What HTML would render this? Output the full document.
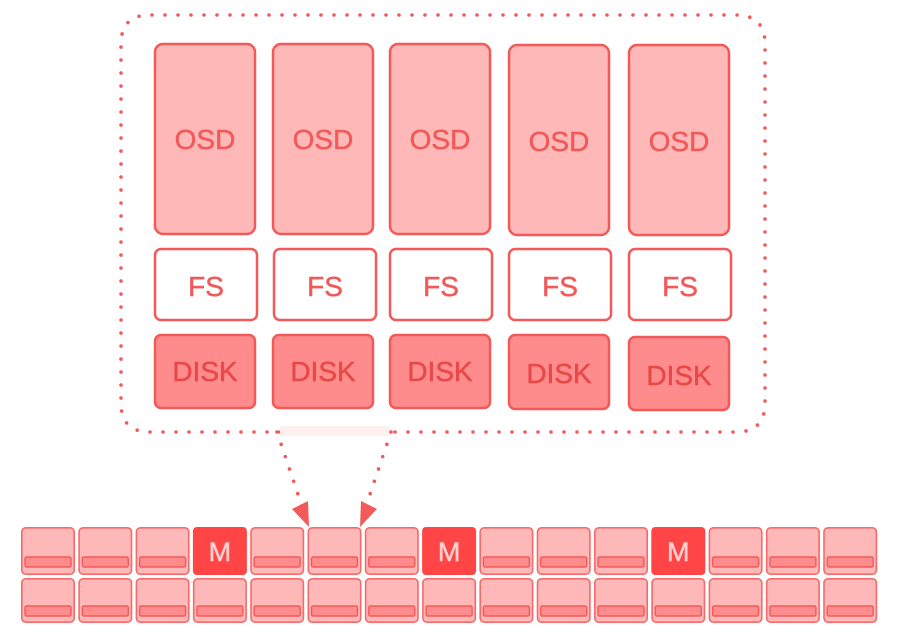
<!DOCTYPE html>
<html><head><meta charset="utf-8"><style>
html,body{margin:0;padding:0;background:#fff;width:902px;height:641px;overflow:hidden}
text{font-family:"Liberation Sans",sans-serif;fill:#f25a5a;text-anchor:middle;stroke:#f25a5a;stroke-width:0.5}
</style></head><body>
<svg width="902" height="641" viewBox="0 0 902 641" xmlns="http://www.w3.org/2000/svg">
<defs>
<g id="c"><rect x="0.8" y="0.8" width="52.4" height="46.4" rx="4" fill="#ffb8b8" stroke="#f56a6a" stroke-width="1.6"/><rect x="4" y="30" width="46" height="10" rx="1.5" fill="#ff8c8c" stroke="#f25a5a" stroke-width="1.4"/></g>
<g id="d"><rect x="0.8" y="0.8" width="52.4" height="43.4" rx="4" fill="#ffb8b8" stroke="#f56a6a" stroke-width="1.6"/><rect x="4" y="28" width="46" height="10" rx="1.5" fill="#ff8c8c" stroke="#f25a5a" stroke-width="1.4"/></g>
<g id="m"><rect x="0" y="0" width="54" height="48" rx="4" fill="#ff4545"/><text x="27" y="34" font-size="27" style="fill:#ffd0d0;stroke:#ffd0d0">M</text></g>
</defs>
<path d="M280 432 H150 Q121 432 121 403 V44 Q121 15 150 15 H736 Q765 15 765 44 V403 Q765 432 736 432 H390" fill="none" stroke="#f25a5a" stroke-width="3.6" stroke-linecap="round" stroke-dasharray="0 13"/>
<rect x="280" y="426" width="110" height="10" fill="#fff0f0"/>
<path d="M277 432 L304 512" stroke="#f25a5a" stroke-width="3.6" stroke-linecap="round" stroke-dasharray="0 13" fill="none"/>
<path d="M391 432 L364 512" stroke="#f25a5a" stroke-width="3.6" stroke-linecap="round" stroke-dasharray="0 13" fill="none"/>
<polygon points="292,509 308,501 309,527" fill="#f25a5a"/>
<polygon points="361,501 377,509 360,527" fill="#f25a5a"/>
<g fill="#ffb8b8" stroke="#f25a5a" stroke-width="2.5">
<rect x="155" y="44" width="100" height="190" rx="8"/>
<rect x="273" y="44" width="100" height="190" rx="8"/>
<rect x="390" y="44" width="100" height="190" rx="8"/>
<rect x="509" y="45" width="100" height="190" rx="8"/>
<rect x="629" y="45" width="100" height="190" rx="8"/>
</g>
<g font-size="28">
<text x="205" y="149">OSD</text><text x="323" y="149">OSD</text><text x="440" y="149">OSD</text><text x="559" y="151">OSD</text><text x="679" y="151">OSD</text>
</g>
<g fill="#fff" stroke="#f25a5a" stroke-width="2.5">
<rect x="155" y="249" width="102" height="71" rx="6"/>
<rect x="274" y="249" width="102" height="71" rx="6"/>
<rect x="390" y="249" width="102" height="71" rx="6"/>
<rect x="509" y="249" width="102" height="71" rx="6"/>
<rect x="629" y="249" width="102" height="71" rx="6"/>
</g>
<g font-size="28">
<text x="206" y="296">FS</text><text x="325" y="296">FS</text><text x="441" y="296">FS</text><text x="560" y="296">FS</text><text x="680" y="296">FS</text>
</g>
<g fill="#ff8c8c" stroke="#f25a5a" stroke-width="2.5">
<rect x="155" y="335" width="100" height="73" rx="6"/>
<rect x="273" y="335" width="100" height="73" rx="6"/>
<rect x="390" y="335" width="100" height="73" rx="6"/>
<rect x="509" y="335" width="100" height="74" rx="6"/>
<rect x="629" y="337" width="100" height="73" rx="6"/>
</g>
<g font-size="28">
<text x="205" y="381" style="fill:#e84848;stroke:#e84848">DISK</text><text x="323" y="381" style="fill:#e84848;stroke:#e84848">DISK</text><text x="440" y="381" style="fill:#e84848;stroke:#e84848">DISK</text><text x="559" y="383" style="fill:#e84848;stroke:#e84848">DISK</text><text x="679" y="385" style="fill:#e84848;stroke:#e84848">DISK</text>
</g>
<use href="#c" x="21" y="527"/><use href="#c" x="78.3" y="527"/><use href="#c" x="135.6" y="527"/><use href="#m" x="192.9" y="527"/>
<use href="#c" x="250.2" y="527"/><use href="#c" x="307.5" y="527"/><use href="#c" x="364.8" y="527"/><use href="#m" x="422.1" y="527"/>
<use href="#c" x="479.4" y="527"/><use href="#c" x="536.7" y="527"/><use href="#c" x="594" y="527"/><use href="#m" x="651.3" y="527"/>
<use href="#c" x="708.6" y="527"/><use href="#c" x="765.9" y="527"/><use href="#c" x="823.2" y="527"/>
<use href="#d" x="21" y="578"/><use href="#d" x="78.3" y="578"/><use href="#d" x="135.6" y="578"/><use href="#d" x="192.9" y="578"/>
<use href="#d" x="250.2" y="578"/><use href="#d" x="307.5" y="578"/><use href="#d" x="364.8" y="578"/><use href="#d" x="422.1" y="578"/>
<use href="#d" x="479.4" y="578"/><use href="#d" x="536.7" y="578"/><use href="#d" x="594" y="578"/><use href="#d" x="651.3" y="578"/>
<use href="#d" x="708.6" y="578"/><use href="#d" x="765.9" y="578"/><use href="#d" x="823.2" y="578"/>
</svg>
</body></html>
